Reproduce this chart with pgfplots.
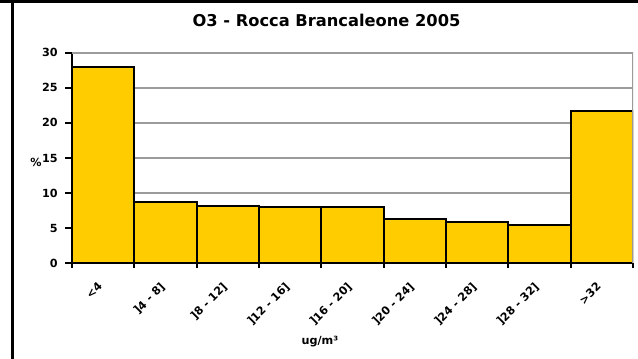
\documentclass[border=0pt]{standalone}
\usepackage{pgfplots}
\pgfplotsset{compat=1.18}
\usepackage{fontspec}
\setmainfont{DejaVu Sans}
\definecolor{baryellow}{RGB}{255,204,0}
\definecolor{gridgray}{RGB}{155,155,155}
\begin{document}
\begin{tikzpicture}
\useasboundingbox (0,0) rectangle (478.5pt,268.5pt);
\clip (0,0) rectangle (478.5pt,268.5pt);
\fill[white] (0,0) rectangle (478.5pt,268.5pt);
\draw[black, line width=1.9pt] (9.375pt,-5pt) -- (9.375pt,268pt);
\draw[black, line width=2.4pt] (0pt,267.6pt) -- (490pt,267.6pt);
\begin{axis}[
  scale only axis,
  width=420.75pt, height=157.95pt,
  at={(54pt,71.025pt)}, anchor=south west,
  xmin=-0.5, xmax=8.5, ymin=0, ymax=30,
  axis lines*=left,
  axis line style={black, line width=1.5pt},
  ytick={0,5,...,30},
  ymajorgrids,
  major grid style={gridgray, line width=1.5pt},
  tick align=outside,
  major tick length=5.25pt,
  minor tick length=3.5pt,
  every tick/.style={black, line width=1.5pt},
  xtick={0,...,8},
  xticklabels={<4, ]4 - 8], ]8 - 12], ]12 - 16], ]16 - 20], ]20 - 24], ]24 - 28], ]28 - 32], >32},
  major x tick style={draw=none},
  minor xtick={-0.5,0.5,...,8.5},
  /pgf/number format/assume math mode=true,
  tick label style={font=\bfseries\fontsize{8.4}{10}\selectfont},
  xticklabel style={shift={(-4.5pt,-6.75pt)}, rotate=45, anchor=north east, inner sep=1pt},
  yticklabel style={xshift=-2pt},
  title={O3 - Rocca Brancaleone 2005},
  title style={at={(axis description cs:0.4537,1.1135)}, anchor=center, font=\bfseries\fontsize{12.2}{14}\selectfont},
  ylabel={\%},
  ylabel style={rotate=-90, at={(axis description cs:-0.0642,0.481)}, anchor=center, font=\bfseries\fontsize{8.4}{10}\selectfont},
  xlabel={ug/m³},
  xlabel style={at={(axis description cs:0.442,-0.3737)}, anchor=center, font=\bfseries\fontsize{8.4}{10}\selectfont},
]
\addplot[ybar, bar width=1, fill=baryellow, draw=black, line width=1.5pt]
  coordinates {(0,28.0) (1,8.8) (2,8.15) (3,7.95) (4,7.95) (5,6.25) (6,5.95) (7,5.5) (8,21.7)};
\draw[gridgray, line width=1.5pt] (axis description cs:0,1) -- (axis description cs:1,1) -- (axis description cs:1,0);
\end{axis}
\end{tikzpicture}
\end{document}
